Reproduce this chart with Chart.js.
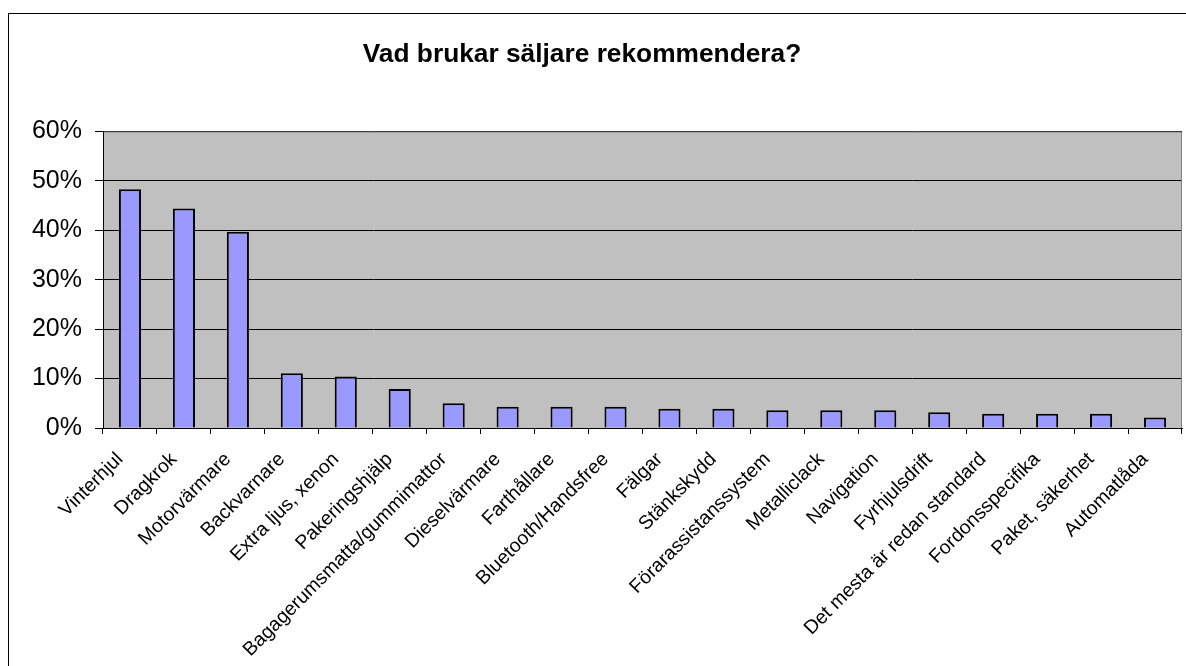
<!DOCTYPE html>
<html>
<head>
<meta charset="utf-8">
<script src="https://cdn.jsdelivr.net/npm/chart.js@4"></script>
<style>
    html, body { margin: 0; padding: 0; background: #fff; }
    #wrap { width: 1186px; height: 666px; }
</style>
</head>
<body>
<div id="wrap"><canvas id="chart" width="1186" height="666"></canvas></div>
<script>
const chartTitle = "Vad brukar säljare rekommendera?";

const categories = [
    "Vinterhjul", "Dragkrok", "Motorvärmare", "Backvarnare", "Extra ljus, xenon",
    "Pakeringshjälp", "Bagagerumsmatta/gummimattor", "Dieselvärmare", "Farthållare",
    "Bluetooth/Handsfree", "Fälgar", "Stänkskydd", "Förarassistanssystem", "Metalliclack",
    "Navigation", "Fyrhjulsdrift", "Det mesta är redan standard", "Fordonsspecifika",
    "Paket, säkerhet", "Automatlåda",
];

// percent of answers
const shares = [48.3, 44.4, 39.7, 11.1, 10.4, 7.9, 5.0, 4.3, 4.3, 4.3, 3.9, 3.9, 3.6, 3.6, 3.6, 3.2, 2.9, 2.9, 2.9, 2.1];

const yTicks = [0, 10, 20, 30, 40, 50, 60];

const FONT = '"Liberation Sans", Arial, sans-serif';

// gray plot area, outer frame and title, like the old Excel chart
const excelFrame = {
    id: "excelFrame",
    beforeDraw(chart) {
        const { ctx, chartArea: a } = chart;
        ctx.save();
        ctx.fillStyle = "#fff";
        ctx.fillRect(0, 0, chart.width, chart.height);
        ctx.strokeStyle = "#000";
        ctx.lineWidth = 1;
        ctx.strokeRect(8.5, 13.5, chart.width + 20, chart.height + 20);
        ctx.fillStyle = "#c0c0c0";
        ctx.fillRect(a.left, a.top, a.right - a.left, a.bottom - a.top);
        ctx.fillStyle = "#000";
        ctx.font = "bold 26.3px " + FONT;
        ctx.textAlign = "center";
        ctx.textBaseline = "middle";
        ctx.fillText(chartTitle, 582, 55);
        ctx.restore();
    },
    beforeDatasetsDraw(chart) {
        const { ctx, chartArea: a } = chart;
        ctx.save();
        ctx.strokeStyle = "#808080";
        ctx.lineWidth = 1;
        ctx.beginPath();
        ctx.moveTo(a.left + 1, a.top + 0.5);
        ctx.lineTo(a.right - 0.5, a.top + 0.5);
        ctx.lineTo(a.right - 0.5, a.bottom);
        ctx.stroke();
        ctx.restore();
    },
};

new Chart(document.getElementById("chart"), {
    type: "bar",
    data: {
        labels: categories,
        datasets: [
            {
                data: shares,
                backgroundColor: "#9999ff",
                borderColor: "#000",
                borderWidth: 2,
                barPercentage: 0.41,
                categoryPercentage: 1,
            },
        ],
    },
    options: {
        responsive: false,
        animation: false,
        devicePixelRatio: 1,
        layout: { padding: { top: 131.5, right: 4, left: 0, bottom: 0 } },
        plugins: {
            legend: { display: false },
            tooltip: { enabled: false },
            title: { display: false },
        },
        scales: {
            x: {
                grid: {
                    display: true,
                    drawOnChartArea: false,
                    drawTicks: true,
                    tickLength: 6,
                    color: "#000",
                    offset: true,
                },
                border: { display: true, color: "#000", width: 1 },
                ticks: {
                    color: "#000",
                    font: { family: FONT, size: 19.5 },
                    minRotation: 45,
                    maxRotation: 45,
                    autoSkip: false,
                    padding: 14,
                    labelOffset: -10,
                },
                afterFit: (s) => { s.height = 238; },
            },
            y: {
                min: 0,
                max: 60,
                afterBuildTicks: (s) => { s.ticks = yTicks.map((v) => ({ value: v })); },
                ticks: {
                    color: "#000",
                    font: { family: FONT, size: 25 },
                    padding: 13,
                    callback: (v) => v + "%",
                },
                grid: { color: "#000", tickLength: 8, drawTicks: true },
                border: { display: true, color: "#000", width: 1 },
                afterFit: (s) => { s.width = 103; },
            },
        },
    },
    plugins: [excelFrame],
});
</script>
</body>
</html>
